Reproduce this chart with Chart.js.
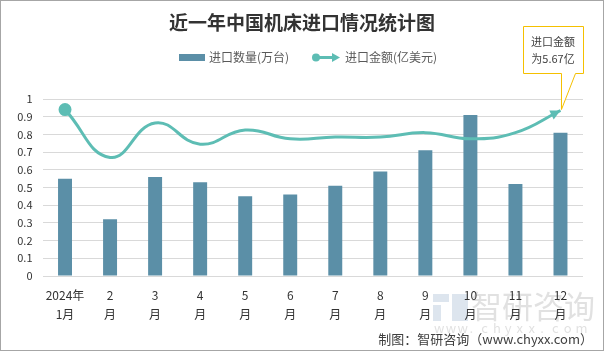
<!DOCTYPE html>
<html><head><meta charset="utf-8">
<script src="https://cdn.jsdelivr.net/npm/chart.js@4/dist/chart.umd.min.js"></script>
<style>
html,body{margin:0;padding:0;background:#fff;}
#wrap{position:relative;width:604px;height:351px;}
canvas{display:block;}
</style></head>
<body><div id="wrap"><canvas id="c" width="604" height="351"></canvas></div>
<script>
const categories = [["2024年","1月"],["2","月"],["3","月"],["4","月"],["5","月"],["6","月"],["7","月"],["8","月"],["9","月"],["10","月"],["11","月"],["12","月"]];
const quantity = [0.55,0.32,0.56,0.53,0.45,0.46,0.51,0.59,0.71,0.91,0.52,0.81];
const amount = [0.94,0.67,0.865,0.745,0.825,0.775,0.785,0.785,0.81,0.775,0.81,0.935];
const seriesNames = ["进口数量(万台)","进口金额(亿美元)"];
const titleText = "近一年中国机床进口情况统计图";
const calloutLines = ["进口金额","为5.67亿"];
const footerText = "制图：智研咨询（www.chyxx.com）";

const BAR = "#5b8fa7", LINE = "#5dbdb4";
const FONT = "'Noto Sans CJK SC','Noto Sans',sans-serif";

const deco = {
  id:'deco',
  beforeDraw(chart){
    const ctx = chart.ctx;
    ctx.save();
    ctx.fillStyle='#fff'; ctx.fillRect(0,0,604,351);
    // watermark
    ctx.globalAlpha = 0.3;
    ctx.fillStyle = '#8fa8c8';
    ctx.fillRect(433,294,16,8); ctx.fillRect(433,305,8,16); ctx.fillRect(452,294,16,27);
    ctx.fillStyle = '#9a9a9a';
    ctx.font = "31px "+FONT; ctx.textBaseline='middle'; ctx.textAlign='left';
    ctx.fillText("智研咨询",471,306);
    ctx.font = "13px "+FONT;
    const w = "www.chyxx.com";
    for(let i=0;i<w.length;i++) ctx.fillText(w[i],434+i*11.8,328);
    ctx.restore();
  },
  afterDraw(chart){
    const ctx = chart.ctx;
    ctx.save();
    // border
    ctx.strokeStyle='#a6a6a6'; ctx.lineWidth=1;
    ctx.strokeRect(0.5,0.5,603,350);
    // title
    ctx.fillStyle='#333'; ctx.font="bold 19px "+FONT; ctx.textAlign='center'; ctx.textBaseline='middle';
    ctx.fillText(titleText,302,23);
    // legend
    ctx.font="12px "+FONT; ctx.textAlign='left';
    ctx.fillStyle=BAR; ctx.fillRect(179,54,26,7);
    ctx.fillStyle='#595959'; ctx.fillText(seriesNames[0],209,57.5);
    ctx.strokeStyle=LINE; ctx.lineWidth=3;
    ctx.beginPath(); ctx.moveTo(316,57.5); ctx.lineTo(334,57.5); ctx.stroke();
    ctx.fillStyle=LINE;
    ctx.beginPath(); ctx.arc(316,57.5,4,0,Math.PI*2); ctx.fill();
    ctx.beginPath(); ctx.moveTo(340,57.5); ctx.lineTo(332,53); ctx.lineTo(332,62); ctx.closePath(); ctx.fill();
    ctx.fillStyle='#595959'; ctx.fillText(seriesNames[1],345,57.5);
    // arrow at line end
    const meta = chart.getDatasetMeta(1);
    const pts = meta.data;
    const last = pts[pts.length-1];
    const cx = last.cp1x!==undefined ? last.cp1x : pts[pts.length-2].x;
    const cy = last.cp1y!==undefined ? last.cp1y : pts[pts.length-2].y;
    const ang = Math.atan2(last.y-cy,last.x-cx);
    ctx.fillStyle=LINE;
    ctx.translate(last.x,last.y); ctx.rotate(ang);
    ctx.beginPath(); ctx.moveTo(0,0); ctx.lineTo(-10,-5); ctx.lineTo(-10,5); ctx.closePath(); ctx.fill();
    ctx.setTransform(1,0,0,1,0,0);
    // callout
    const bx=523, by=26, bw=60, bh=47;
    ctx.fillStyle='#fff'; ctx.strokeStyle='#f5c000'; ctx.lineWidth=1;
    ctx.beginPath();
    ctx.moveTo(bx+0.5,by+0.5); ctx.lineTo(bx+bw+0.5,by+0.5); ctx.lineTo(bx+bw+0.5,by+bh+0.5);
    ctx.lineTo(bx+52.5,by+bh+0.5); ctx.lineTo(last.x+1,last.y-1); ctx.lineTo(bx+38.5,by+bh+0.5);
    ctx.lineTo(bx+0.5,by+bh+0.5); ctx.closePath(); ctx.fill(); ctx.stroke();
    ctx.fillStyle='#404040'; ctx.font="11px "+FONT; ctx.textAlign='center';
    ctx.fillText(calloutLines[0],bx+bw/2,by+16);
    ctx.fillText(calloutLines[1],bx+bw/2,by+33);
    // footer
    ctx.fillStyle='#404040'; ctx.font="13px "+FONT; ctx.textAlign='right';
    ctx.fillText(footerText,593,339);
    ctx.restore();
  }
};

new Chart(document.getElementById('c'),{
  data:{
    labels:categories,
    datasets:[
      {type:'bar',label:seriesNames[0],data:quantity,backgroundColor:BAR,categoryPercentage:1,barPercentage:0.31,order:2},
      {type:'line',label:seriesNames[1],data:amount,borderColor:LINE,backgroundColor:LINE,borderWidth:3,tension:0.45,
       pointRadius:amount.map((v,i)=>i===0?5:0),pointHoverRadius:0,order:1,clip:false}
    ]
  },
  options:{
    responsive:false,animation:false,
    layout:{padding:{top:99,right:21,left:0,bottom:0}},
    plugins:{legend:{display:false},title:{display:false},tooltip:{enabled:false}},
    scales:{
      x:{grid:{display:false,drawTicks:false},border:{display:false},
         ticks:{padding:10,color:'#333',font:{size:12,family:FONT,lineHeight:1.6},maxRotation:0,autoSkip:false},
         afterFit(s){s.height=75;}},
      y:{min:0,max:1,grid:{color:'#d9d9d9',drawTicks:false},border:{display:false},
         ticks:{stepSize:0.1,padding:10,color:'#333',font:{size:11,family:FONT},
                callback:v=>Math.round(v*10)/10+''},
         afterFit(s){s.width=42.5;}}
    }
  },
  plugins:[deco]
});
</script></body></html>
